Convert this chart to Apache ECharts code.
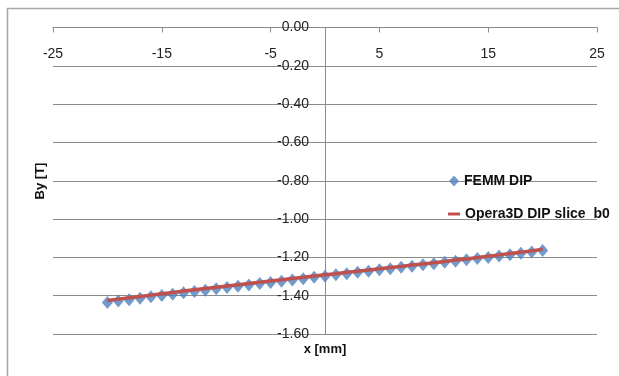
<!DOCTYPE html>
<html>
<head>
<meta charset="utf-8">
<script src="https://cdn.jsdelivr.net/npm/echarts@6/dist/echarts.min.js"></script>
<style>
html,body{margin:0;padding:0;background:#fff;}
#c{width:619px;height:376px;}
</style>
</head>
<body>
<div id="c"></div>
<script>
var xValues = [-20,-19,-18,-17,-16,-15,-14,-13,-12,-11,-10,-9,-8,-7,-6,-5,-4,-3,-2,-1,0,1,2,3,4,5,6,7,8,9,10,11,12,13,14,15,16,17,18,19,20];
var femmDip = [-1.435,-1.428,-1.421,-1.413,-1.406,-1.399,-1.392,-1.385,-1.378,-1.371,-1.364,-1.357,-1.351,-1.344,-1.337,-1.331,-1.324,-1.318,-1.311,-1.304,-1.298,-1.291,-1.285,-1.278,-1.272,-1.265,-1.259,-1.252,-1.246,-1.239,-1.233,-1.226,-1.220,-1.213,-1.206,-1.200,-1.193,-1.186,-1.179,-1.172,-1.164];
var opera3d = [-1.425,-1.418,-1.411,-1.404,-1.397,-1.390,-1.383,-1.376,-1.369,-1.362,-1.356,-1.349,-1.343,-1.336,-1.330,-1.323,-1.317,-1.310,-1.304,-1.297,-1.291,-1.285,-1.278,-1.272,-1.266,-1.259,-1.253,-1.247,-1.240,-1.234,-1.228,-1.221,-1.214,-1.208,-1.201,-1.194,-1.187,-1.180,-1.173,-1.166,-1.158];
var seriesNames = ['FEMM DIP', 'Opera3D DIP slice  b0'];
var xAxisTitle = 'x [mm]';
var yAxisTitle = 'By [T]';

function pairs(xs, ys){ return xs.map(function(x,i){ return [x, ys[i]]; }); }

var chart = echarts.init(document.getElementById('c'), null, {renderer:'canvas'});
var font = 'Liberation Sans';
var gridLeft = 53, gridRight = 22;
var plotW = 619 - gridLeft - gridRight;
chart.setOption({
  animation: false,
  backgroundColor: '#fff',
  grid: {left: gridLeft, right: gridRight, top: 27.5, bottom: 42, containLabel: false},
  xAxis: {
    type: 'value', min: -25, max: 25, interval: 10, position: 'top',
    axisLine: {onZero: false, lineStyle: {color: '#8c8c8c', width: 1}},
    axisTick: {show: true, inside: true, length: 5, lineStyle: {color: '#8c8c8c'}},
    axisLabel: {inside: true, margin: 20, color: '#222', fontSize: 14, fontFamily: font},
    splitLine: {show: false}
  },
  yAxis: {
    type: 'value', min: -1.6, max: 0, interval: 0.2, position: 'left',
    offset: -plotW / 2,
    axisLine: {show: true, onZero: false, lineStyle: {color: '#8c8c8c', width: 1}},
    axisTick: {show: false},
    axisLabel: {margin: 16, color: '#222', fontSize: 14, fontFamily: font,
      formatter: function(v){ return v.toFixed(2); }},
    splitLine: {show: true, lineStyle: {color: '#8c8c8c', width: 1}}
  },
  legend: [
    {data: [{name: seriesNames[0], icon: 'diamond'}], orient: 'vertical', left: 444, top: 169,
     itemWidth: 10, itemHeight: 11, textStyle: {fontSize: 14, fontWeight: 'bold', color: '#111', fontFamily: font}},
    {data: [{name: seriesNames[1], icon: 'rect'}], orient: 'vertical', left: 443, top: 202,
     itemWidth: 12, itemHeight: 3, textStyle: {fontSize: 14, fontWeight: 'bold', color: '#111', fontFamily: font}}
  ],
  graphic: [
    {type: 'rect', shape: {x: 7.5, y: 8.5, width: 700, height: 500}, style: {fill: 'none', stroke: '#a6a6a6', lineWidth: 1.5}, z: -10},
    {type: 'text', x: 325, y: 349, style: {text: xAxisTitle, font: 'bold 13px Liberation Sans', fill: '#111', align: 'center', verticalAlign: 'middle'}},
    {type: 'text', x: 40, y: 181, rotation: Math.PI/2, style: {text: yAxisTitle, font: 'bold 13px Liberation Sans', fill: '#111', align: 'center', verticalAlign: 'middle'}}
  ],
  series: [
    {name: seriesNames[0], type: 'scatter', data: pairs(xValues, femmDip), symbol: 'diamond', symbolSize: [11, 13],
     itemStyle: {color: '#4F81BD'}, z: 2},
    {name: seriesNames[1], type: 'line', data: pairs(xValues, opera3d), showSymbol: false, symbol: 'none',
     lineStyle: {color: '#C0504D', width: 3.5}, itemStyle: {color: '#C0504D'}, z: 3}
  ]
});
</script>
</body>
</html>
